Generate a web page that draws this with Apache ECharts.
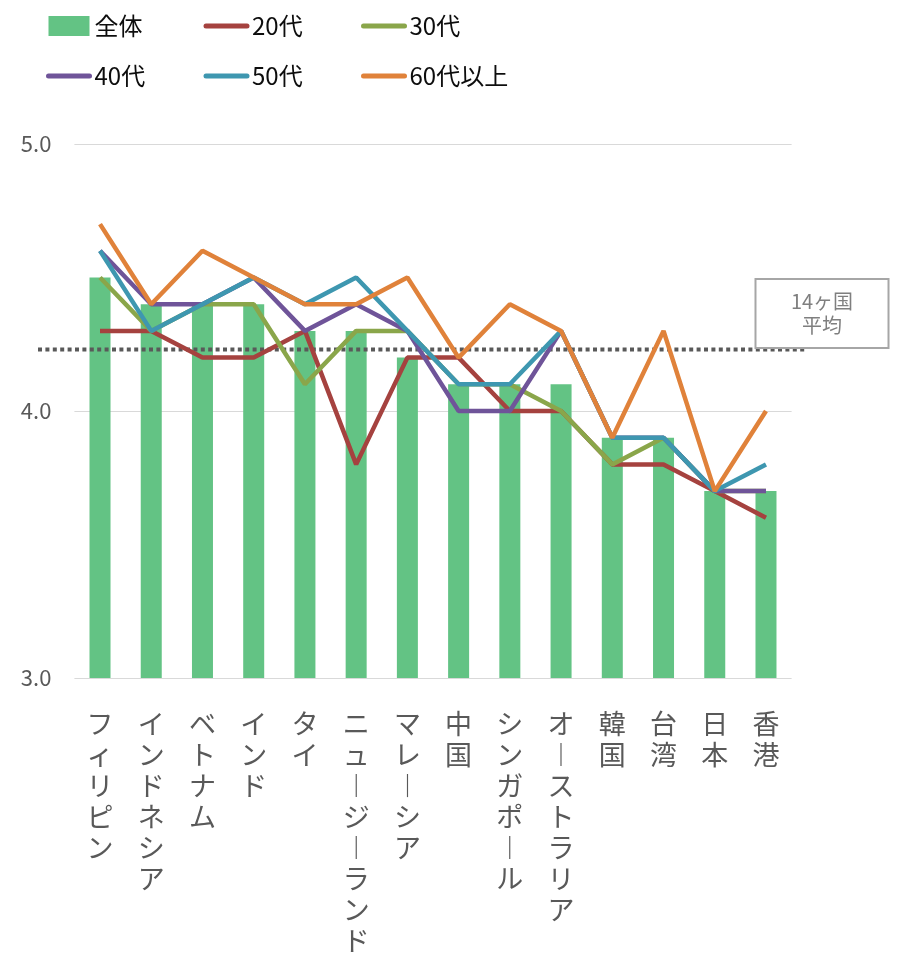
<!DOCTYPE html>
<html>
<head>
<meta charset="utf-8">
<script src="https://cdn.jsdelivr.net/npm/echarts@6/dist/echarts.min.js"></script>
<style>
  html, body { margin: 0; padding: 0; background: #fff; }
  #main { width: 899px; height: 960px; }
</style>
</head>
<body>
<div id="main"></div>
<script>
var countries = ['フィリピン', 'インドネシア', 'ベトナム', 'インド', 'タイ', 'ニュージーランド', 'マレーシア',
  '中国', 'シンガポール', 'オーストラリア', '韓国', '台湾', '日本', '香港'];
var allAges = [4.5, 4.4, 4.4, 4.4, 4.3, 4.3, 4.2, 4.1, 4.1, 4.1, 3.9, 3.9, 3.7, 3.7];
var age20 = [4.3, 4.3, 4.2, 4.2, 4.3, 3.8, 4.2, 4.2, 4.0, 4.0, 3.8, 3.8, 3.7, 3.6];
var age30 = [4.5, 4.3, 4.4, 4.4, 4.1, 4.3, 4.3, 4.1, 4.1, 4.0, 3.8, 3.9, 3.7, 3.7];
var age40 = [4.6, 4.4, 4.4, 4.5, 4.3, 4.4, 4.3, 4.0, 4.0, 4.3, 3.9, 3.9, 3.7, 3.7];
var age50 = [4.6, 4.3, 4.4, 4.5, 4.4, 4.5, 4.3, 4.1, 4.1, 4.3, 3.9, 3.9, 3.7, 3.8];
var age60 = [4.7, 4.4, 4.6, 4.5, 4.4, 4.4, 4.5, 4.2, 4.4, 4.3, 3.9, 4.3, 3.7, 4.0];
var average = 4.23;
var averageLabel = '14ヶ国\n平均';
var yTicks = [3, 4, 5];

var FONT = '"Noto Sans CJK JP", "Noto Sans", sans-serif';

var myChart = echarts.init(document.getElementById('main'));

// 年代別の折れ線
function ageLine(name, data, color) {
  return {
    name: name,
    type: 'line',
    data: data,
    symbol: 'none',
    lineStyle: { width: 4.5, color: color },
    itemStyle: { color: color },
    z: 4
  };
}

// 縦書き風ラベル（長音は縦棒に）
function verticalText(s) {
  return s.split('').map(function (c) { return c === 'ー' ? '︱' : c; }).join('\n');
}

// 凡例：線の項目はシンボルを消す
var legendNames = ['全体', '20代', '30代', '40代', '50代', '60代以上'];
var legendData = legendNames.map(function (n, i) {
  return i === 0 ? { name: n, icon: 'rect' } : { name: n, itemStyle: { opacity: 0 } };
});

var option = {
  animation: false,
  textStyle: { fontFamily: FONT },
  legend: {
    left: 41,
    top: 6,
    width: 470,
    itemWidth: 41,
    itemHeight: 20,
    itemGap: 20,
    lineStyle: { width: 5, cap: 'round' },
    textStyle: { fontFamily: FONT, fontSize: 24, color: '#0d0d0d', width: 89, lineHeight: 30 },
    data: legendData
  },
  grid: [
    { left: 74.4, right: 107.4, top: 144, bottom: 282 },
    { left: 38, right: 94, top: 144, bottom: 282 }
  ],
  xAxis: [
    {
      type: 'category',
      gridIndex: 0,
      data: countries,
      axisLine: { show: false },
      axisTick: { show: false },
      axisLabel: {
        interval: 0,
        margin: 30,
        fontSize: 27,
        lineHeight: 31,
        color: '#595959',
        verticalAlign: 'top',
        formatter: verticalText
      }
    },
    { type: 'value', gridIndex: 1, min: 0, max: 1, show: false }
  ],
  yAxis: [
    {
      type: 'value',
      gridIndex: 0,
      min: yTicks[0],
      max: yTicks[yTicks.length - 1],
      interval: 1,
      axisLine: { show: false },
      axisTick: { show: false },
      splitLine: { lineStyle: { color: '#d9d9d9', width: 1 } },
      axisLabel: {
        margin: 23,
        fontSize: 22,
        color: '#595959',
        formatter: function (v) { return v.toFixed(1); }
      }
    },
    { type: 'value', gridIndex: 1, min: yTicks[0], max: yTicks[yTicks.length - 1], show: false }
  ],
  series: [
    {
      name: '全体',
      type: 'bar',
      data: allAges,
      barWidth: 21,
      itemStyle: { color: '#63c384' },
      z: 2
    },
    {
      name: 'avg',
      type: 'line',
      xAxisIndex: 1,
      yAxisIndex: 1,
      data: [
        [0, average],
        {
          value: [1, average],
          label: {
            show: true,
            position: 'inside',
            formatter: averageLabel,
            offset: [17, -36],
            fontFamily: FONT,
            fontSize: 20,
            lineHeight: 24,
            color: '#7f7f7f',
            align: 'center',
            verticalAlign: 'middle',
            width: 131,
            padding: [9, 0, 10, 0],
            backgroundColor: '#fff',
            borderColor: '#a6a6a6',
            borderWidth: 2
          }
        }
      ],
      symbol: 'circle',
      symbolSize: 0,
      lineStyle: { color: '#595959', width: 4, type: [4, 3.4] },
      label: { show: false },
      z: 3
    },
    ageLine('20代', age20, '#a5423f'),
    ageLine('30代', age30, '#8aa64a'),
    ageLine('40代', age40, '#6f5499'),
    ageLine('50代', age50, '#3e97b0'),
    ageLine('60代以上', age60, '#e0823a')
  ]
};

myChart.setOption(option);
</script>
</body>
</html>
